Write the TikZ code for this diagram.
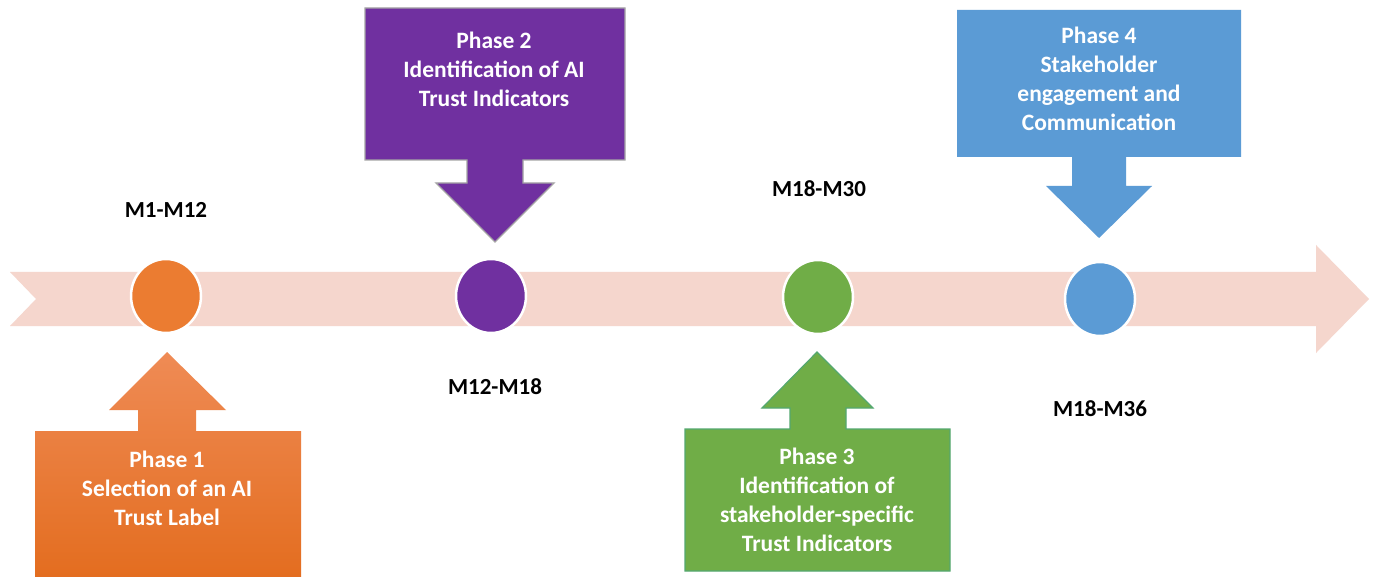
\documentclass[tikz,border=0pt]{standalone}
\usepackage{fontspec}
\setmainfont{Carlito}
\usetikzlibrary{shapes.geometric}
\definecolor{band}{RGB}{245,214,205}
\definecolor{orangeA}{RGB}{235,124,49}
\definecolor{purpleA}{RGB}{112,48,160}
\definecolor{greenA}{RGB}{112,173,71}
\definecolor{blueA}{RGB}{91,155,213}
\definecolor{greenEdge}{RGB}{84,168,112}
\definecolor{grayEdge}{RGB}{165,165,165}
\begin{document}
\begin{tikzpicture}[x=1pt,y=-1pt,
  phasetext/.style={text=white,align=center,font=\bfseries\fontsize{23.5}{29}\selectfont},
  datelabel/.style={text=black,font=\bfseries\fontsize{23}{27}\selectfont},
  milestone/.style={ellipse,draw=white,line width=2.5pt,minimum width=70pt,minimum height=74pt,inner sep=0pt}]
\clip (0,0) rectangle (1378,577);
\fill[white] (0,0) rectangle (1378,577);

% timeline band with notched tail and arrow head
\fill[band] (10,272) -- (1316,272) -- (1316,245) -- (1369,299) -- (1316,353)
  -- (1316,326) -- (10,326) -- (36,299) -- cycle;

% milestones
\node[milestone,fill=orangeA] (m1) at (166,296) {};
\node[milestone,fill=purpleA] (m2) at (491,296) {};
\node[milestone,fill=greenA]  (m3) at (818,297) {};
\node[milestone,fill=blueA]   (m4) at (1100,299) {};

% Phase 1: up-arrow callout below the band
\shade[top color={rgb,255:red,239;green,139;blue,85},middle color={rgb,255:red,244;green,123;blue,46},
  bottom color={rgb,255:red,226;green,106;blue,26}]
  (167,352) -- (226,410) -- (196,410) -- (196,431) -- (301,431) -- (301,600)
  -- (35,600) -- (35,431) -- (138,431) -- (138,410) -- (109,410) -- cycle;
\node[phasetext] (p1) at (167,488) {Phase 1\\Selection of an AI\\Trust Label};

% Phase 2: down-arrow callout above the band
\filldraw[fill=purpleA,draw=grayEdge,line width=1.3pt]
  (365,8) -- (625,8) -- (625,160) -- (523,160) -- (523,183) -- (554,183) -- (495,242)
  -- (436,183) -- (467,183) -- (467,160) -- (365,160) -- cycle;
\node[phasetext] (p2) at (494,69) {Phase 2\\Identification of AI\\Trust Indicators};

% Phase 3: up-arrow callout below the band
\filldraw[fill=greenA,draw=greenEdge,line width=1.2pt]
  (817,352) -- (873,408) -- (846,408) -- (846,429) -- (950,429) -- (950,571)
  -- (685,571) -- (685,429) -- (790,429) -- (790,408) -- (762,408) -- cycle;
\node[phasetext] (p3) at (817,499.5) {Phase 3\\Identification of\\stakeholder-specific\\Trust Indicators};

% Phase 4: down-arrow callout above the band
\fill[blueA]
  (957,10) -- (1241,10) -- (1241,157) -- (1126,157) -- (1126,186) -- (1152,186) -- (1099,238)
  -- (1046,186) -- (1072,186) -- (1072,157) -- (957,157) -- cycle;
\node[phasetext] (p4) at (1099,79) {Phase 4\\Stakeholder\\engagement and\\Communication};

% period labels
\node[datelabel] (d1) at (166,210) {M1-M12};
\node[datelabel] (d2) at (495,387) {M12-M18};
\node[datelabel] (d3) at (819,189) {M18-M30};
\node[datelabel] (d4) at (1100,409) {M18-M36};
\end{tikzpicture}
\end{document}
